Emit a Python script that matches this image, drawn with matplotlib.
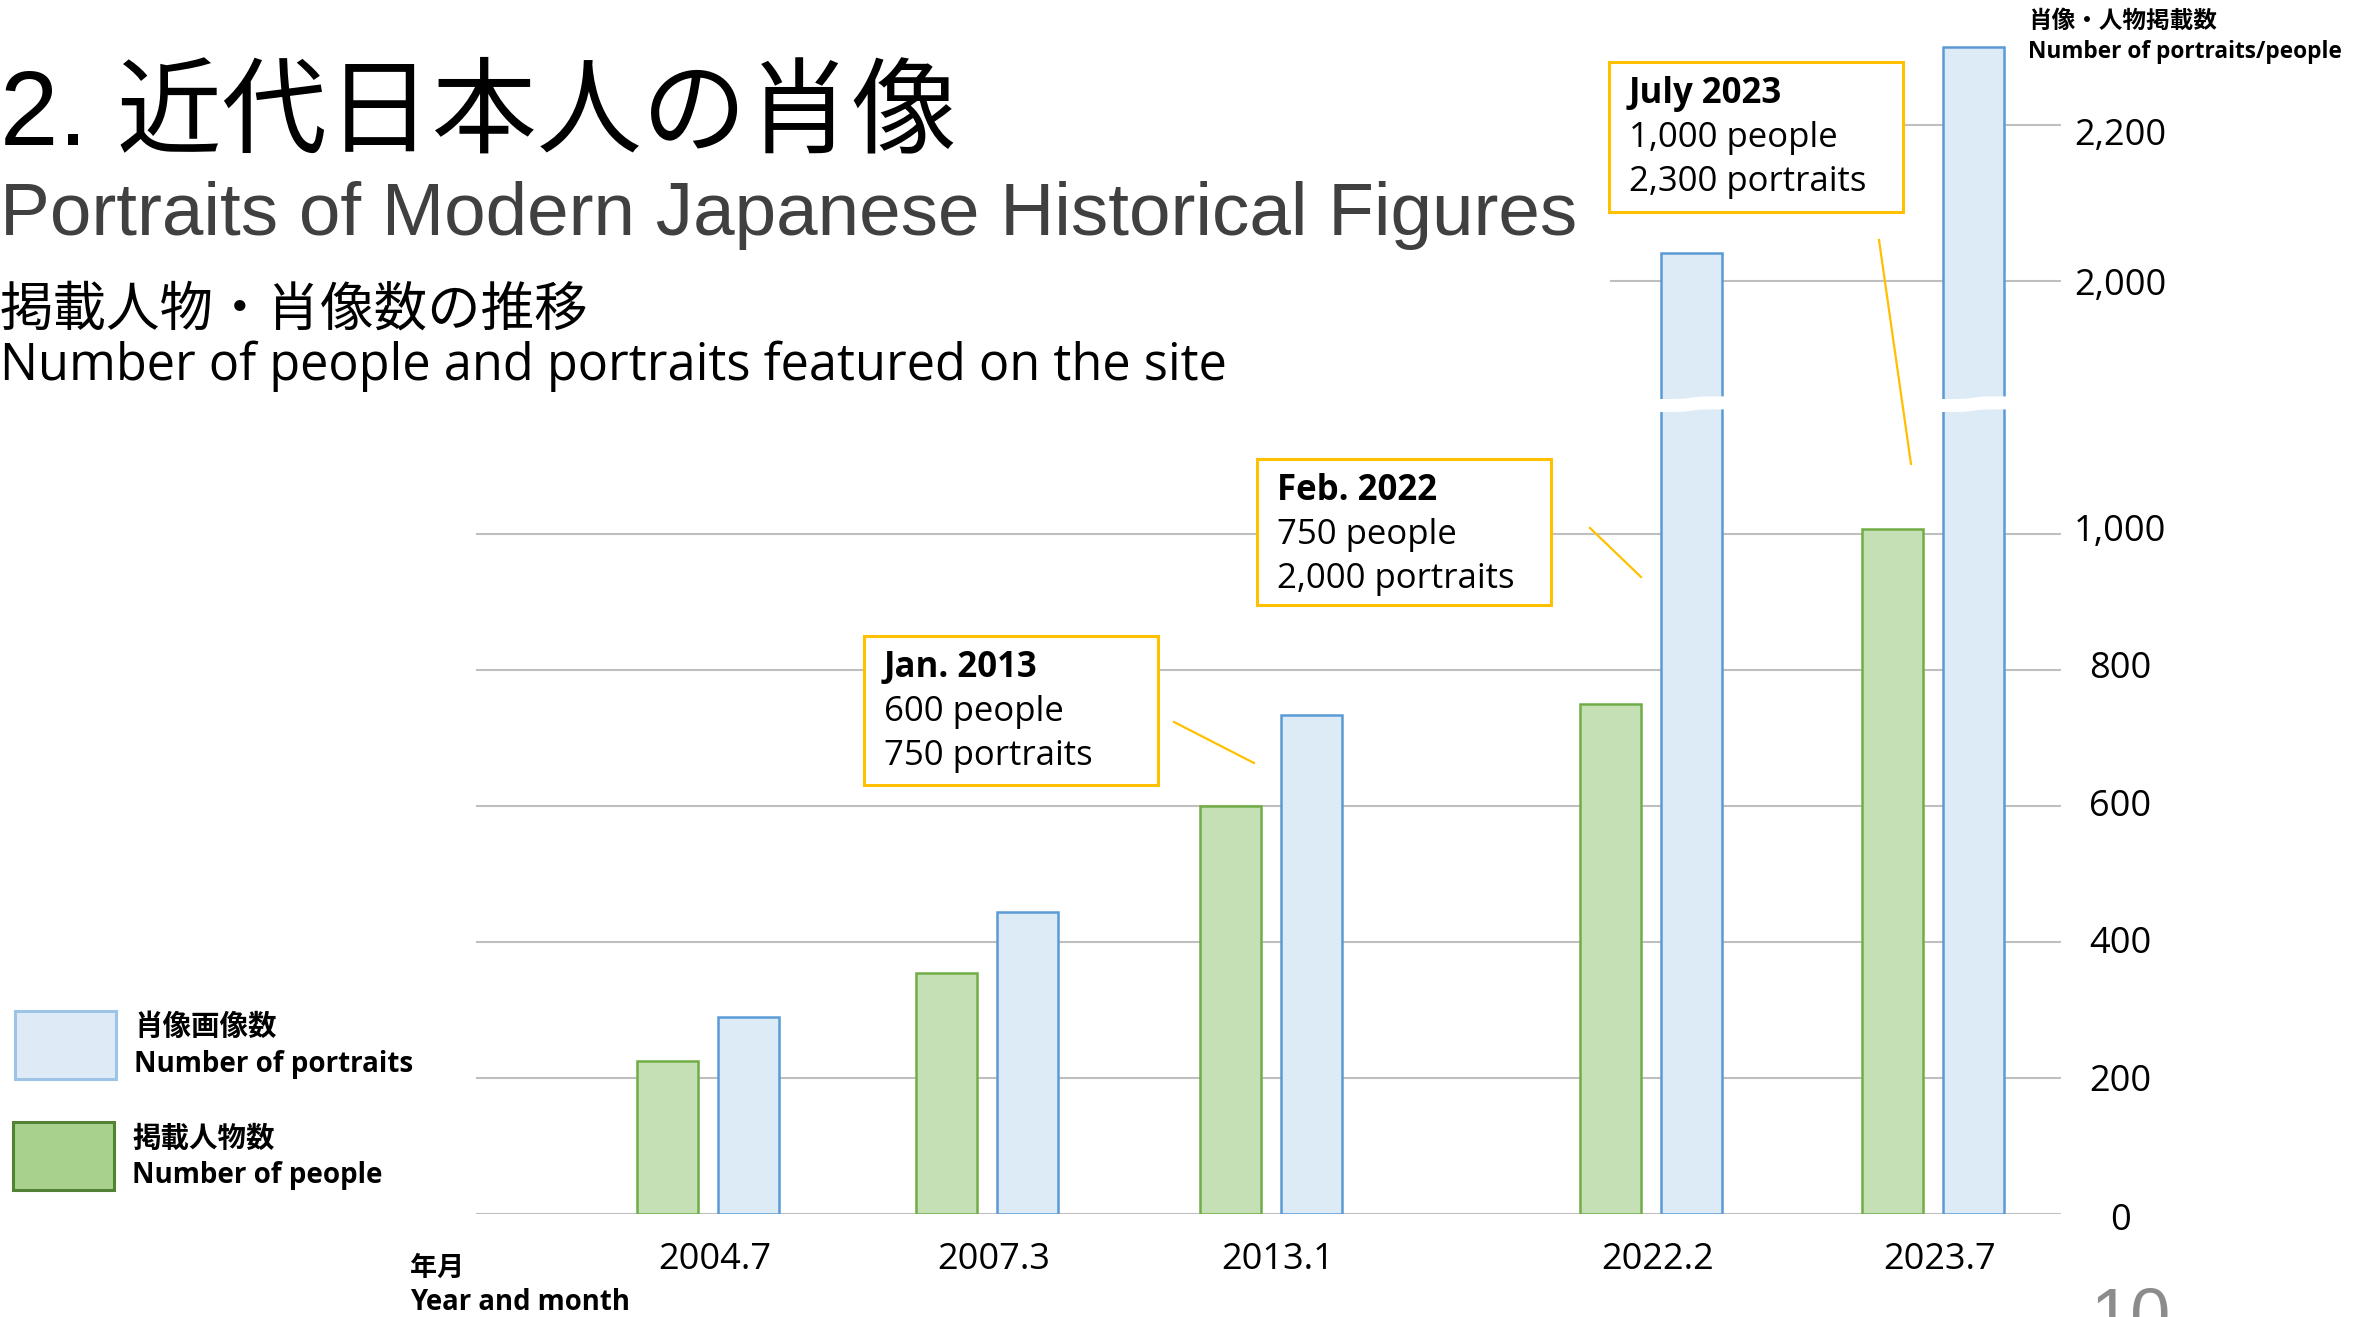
import matplotlib
matplotlib.use('Agg')
import matplotlib.pyplot as plt
from matplotlib.patches import Rectangle, Polygon
from matplotlib.lines import Line2D
from matplotlib.transforms import ScaledTranslation
import numpy as np

# ---------------- data ----------------
dates = ['2004.7', '2007.3', '2013.1', '2022.2', '2023.7']
people = [225, 355, 600, 750, 1008]
portraits = [290, 445, 735, 2035, 2300]
low_ticks = [0, 200, 400, 600, 800, 1000]
high_ticks = [2000, 2200]

# ---------------- layout ----------------
W, H = 2354, 1317
fig = plt.figure(figsize=(W / 100, H / 100), dpi=100)
fig.patch.set_facecolor('white')


def fx(x):
    return x / W


def fy(y):
    return 1 - y / H


AX_L, AX_R = 476, 2061
BASE_Y, BREAK_Y, TOP_Y = 1214, 403, 39
ax_lo = fig.add_axes([fx(AX_L), fy(BASE_Y), fx(AX_R) - fx(AX_L), fy(BREAK_Y) - fy(BASE_Y)])
ax_hi = fig.add_axes([fx(AX_L), fy(BREAK_Y), fx(AX_R) - fx(AX_L), fy(TOP_Y) - fy(BREAK_Y)])

group_x = np.array([0.826, 1.819, 2.829, 4.181, 5.185])
bar_w = 0.217
off = 0.144
XMAX = (AX_R - AX_L) / 281.0

GREEN_F, GREEN_E = '#C5E0B4', '#70AD47'
BLUE_F, BLUE_E = '#DDEBF7', '#5B9BD5'
GRID = '#BFBFBF'
LATIN = ['Open Sans', 'Noto Sans CJK JP']
JPF = ['Noto Sans CJK JP', 'Open Sans']

for ax in (ax_lo, ax_hi):
    ax.bar(group_x - off, people, bar_w, color=GREEN_F, edgecolor=GREEN_E, linewidth=1.8, zorder=2)
    ax.bar(group_x + off, portraits, bar_w, color=BLUE_F, edgecolor=BLUE_E, linewidth=1.8, zorder=2)
    ax.set_xlim(0, XMAX)
    for s in ax.spines.values():
        s.set_visible(False)
    ax.yaxis.tick_right()
    ax.tick_params(axis='y', length=0, pad=42.5, labelsize=26)
    ax.set_facecolor('none')

ax_lo.set_ylim(0, (BASE_Y - BREAK_Y) / 0.6795)
ax_hi.set_ylim(2000 - (BREAK_Y - 280.7) / 0.78, 2000 + (280.7 - TOP_Y) / 0.78)

ax_lo.set_yticks(low_ticks)
ax_lo.set_yticklabels([f'{v:,}' for v in low_ticks], fontfamily=LATIN, ha='center')
ax_lo.grid(axis='y', color=GRID, linewidth=1.5, zorder=0)
ax_lo.set_axisbelow(True)

ax_hi.set_yticks(high_ticks)
ax_hi.set_yticklabels([f'{v:,}' for v in high_ticks], fontfamily=LATIN, ha='center')
ax_hi.hlines(high_ticks, (1610 - AX_L) / (AX_R - AX_L), 1, transform=ax_hi.get_yaxis_transform(),
             color=GRID, linewidth=1.5, zorder=0)

# small vertical nudges of the value labels (pixels, + = down), as placed on the slide
lo_nudge = [2, -1, -3, -4, -6, -7]
hi_nudge = [1, 7]
for lab, d in zip(ax_lo.get_yticklabels(), lo_nudge):
    lab.set_transform(lab.get_transform() + ScaledTranslation(0, -d / 100, fig.dpi_scale_trans))
for lab, d in zip(ax_hi.get_yticklabels(), hi_nudge):
    lab.set_transform(lab.get_transform() + ScaledTranslation(0, -d / 100, fig.dpi_scale_trans))

ax_lo.set_xticks(group_x)
ax_lo.set_xticklabels(dates, fontfamily=LATIN)
ax_lo.tick_params(axis='x', length=0, pad=20, labelsize=26)
shift = ScaledTranslation(5 / 72, 0, fig.dpi_scale_trans)
for lab in ax_lo.get_xticklabels():
    lab.set_transform(lab.get_transform() + shift)
ax_hi.set_xticks([])

# ---------------- axis break bands ----------------
lo_top = ax_lo.get_ylim()[1]
for xc, v in zip(group_x + off, portraits):
    if v > lo_top:
        xl = ax_lo.transData.transform((xc - bar_w / 2, 0))[0] - 3
        xr = ax_lo.transData.transform((xc + bar_w / 2, 0))[0] + 3
        t = np.linspace(0, 1, 40)
        xs = xl + (xr - xl) * t
        cen = 404.2 - 1.3 * np.tanh((t - 0.5) * 8)
        top = cen - 6.5
        bot = cen + 6.5
        px = np.concatenate([xs, xs[::-1]])
        py = np.concatenate([top, bot[::-1]])
        pts = np.column_stack([px / W, 1 - py / H])
        fig.add_artist(Polygon(pts, closed=True, facecolor='white', edgecolor='none',
                               transform=fig.transFigure, zorder=5))

# ---------------- titles ----------------
fig.text(fx(0), fy(144), '2. 近代日本人の肖像', fontfamily=['Liberation Sans', 'Noto Sans CJK JP'],
         fontsize=75.6, va='baseline', ha='left', color='black')
fig.text(fx(0), fy(235), 'Portraits of Modern Japanese Historical Figures', fontfamily=['Liberation Sans'],
         fontsize=53.8, va='baseline', ha='left', color='#404040')
fig.text(fx(0), fy(326), '掲載人物・肖像数の推移', fontfamily=JPF, fontsize=38.5, va='baseline', ha='left')
fig.text(fx(0), fy(380), 'Number of people and portraits featured on the site', fontfamily=LATIN,
         fontsize=36.4, va='baseline', ha='left')

# y-axis title
fig.text(fx(2028), fy(28), '肖像・人物掲載数', fontfamily=JPF, fontsize=17, fontweight='bold',
         va='baseline', ha='left')
fig.text(fx(2028), fy(58), 'Number of portraits/people', fontfamily=LATIN, fontsize=16.3, fontweight='bold',
         va='baseline', ha='left')

# x-axis title
fig.text(fx(410), fy(1276), '年月', fontfamily=JPF, fontsize=19.5, fontweight='bold', va='baseline', ha='left')
fig.text(fx(410), fy(1310), 'Year and month', fontfamily=LATIN, fontsize=19.8, fontweight='bold',
         va='baseline', ha='left')

# ---------------- legend ----------------
fig.add_artist(Rectangle((fx(15), fy(1079)), fx(116) - fx(15), fy(1011) - fy(1079), facecolor='#DEEBF7',
                         edgecolor='#9DC3E6', linewidth=2.2, transform=fig.transFigure))
fig.add_artist(Rectangle((fx(13), fy(1190)), fx(114) - fx(13), fy(1122) - fy(1190), facecolor='#A9D18E',
                         edgecolor='#548235', linewidth=2.2, transform=fig.transFigure))
fig.text(fx(134), fy(1035), '肖像画像数', fontfamily=JPF, fontsize=20.5, fontweight='bold', va='baseline')
fig.text(fx(134), fy(1072), 'Number of portraits', fontfamily=LATIN, fontsize=20, fontweight='bold',
         va='baseline')
fig.text(fx(132), fy(1147), '掲載人物数', fontfamily=JPF, fontsize=20.5, fontweight='bold', va='baseline')
fig.text(fx(132), fy(1183), 'Number of people', fontfamily=LATIN, fontsize=20, fontweight='bold',
         va='baseline')

# ---------------- annotation boxes ----------------
boxes = [
    ((864, 636, 1158, 785), ['Jan. 2013', '600 people', '750 portraits'], (1174, 722, 1254, 763)),
    ((1257, 459, 1551, 605), ['Feb. 2022', '750 people', '2,000 portraits'], (1590, 528, 1641, 577)),
    ((1609, 62, 1903, 212), ['July 2023', '1,000 people', '2,300 portraits'], (1879, 240, 1911, 464)),
]
for (x0, y0, x1, y1), lines, (lx0, ly0, lx1, ly1) in boxes:
    fig.add_artist(Rectangle((fx(x0), fy(y1)), fx(x1) - fx(x0), fy(y0) - fy(y1), facecolor='white',
                             edgecolor='#FFC000', linewidth=2.2, transform=fig.transFigure, zorder=6))
    for i, s in enumerate(lines):
        fig.text(fx(x0 + 20), fy(y0 + 41 + 44 * i), s, fontfamily=LATIN, fontsize=25,
                 fontweight='bold' if i == 0 else 'normal', va='baseline', ha='left', zorder=7)
    fig.add_artist(Line2D([fx(lx0), fx(lx1)], [fy(ly0), fy(ly1)], color='#FFC000', linewidth=1.6,
                          transform=fig.transFigure, zorder=6))

# page number (partly cut off, as in the source slide)
fig.text(fx(2090), fy(1339), '10', fontfamily=['Liberation Sans'], fontsize=52, color='#8C8C8C',
         va='baseline', ha='left')

fig.savefig('out.png', dpi=100, facecolor='white')
